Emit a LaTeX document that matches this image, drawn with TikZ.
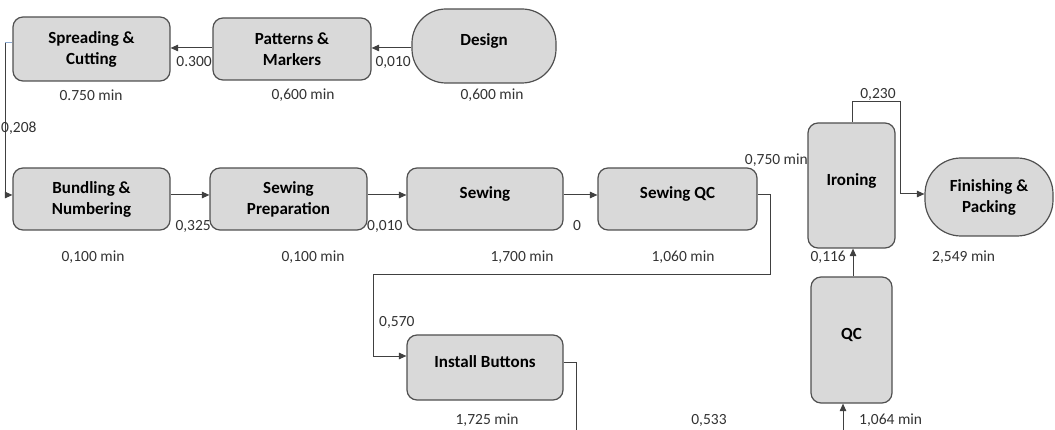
\documentclass[tikz,border=0pt]{standalone}
\usepackage{fontspec}
\setmainfont{Carlito}
\usetikzlibrary{arrows.meta}
\definecolor{boxfill}{RGB}{217,217,217}
\definecolor{boxline}{RGB}{80,80,80}
\definecolor{conn}{RGB}{64,64,64}
\definecolor{lbl}{RGB}{50,50,50}
\definecolor{tint}{RGB}{140,170,210}
\tikzset{
  box/.style={draw=boxline, fill=boxfill, line width=1.2pt, rounded corners=10pt,
    align=center, inner sep=0pt, font=\fontsize{17}{21}\selectfont\bfseries, text=black},
  pill/.style={box, rounded corners=34pt},
  oneline/.style={text depth=12pt},
  lab/.style={inner sep=0pt, font=\fontsize{15.5}{18}\selectfont, text=lbl},
  conn/.style={draw=conn, line width=1pt},
  arr/.style={conn, -{Triangle[length=7.5pt,width=6.5pt]}}
}
\begin{document}
\begin{tikzpicture}[x=1pt,y=-1pt]
\useasboundingbox (0,0) rectangle (1055,430);
% boxes
\node[box, minimum width=157, minimum height=64] (spread) at (91.5,49) {Spreading \&\\Cutting};
\node[box, minimum width=158, minimum height=62] (pattern) at (292,49) {Patterns \&\\Markers};
\node[pill, oneline, minimum width=144, minimum height=74] (design) at (484,46) {Design};
\node[box, minimum width=157, minimum height=62] (bund) at (91.5,199) {Bundling \&\\Numbering};
\node[box, minimum width=157, minimum height=62] (prep) at (288.5,199) {Sewing\\Preparation};
\node[box, oneline, minimum width=156, minimum height=62] (sew) at (485,199) {Sewing};
\node[box, oneline, minimum width=159, minimum height=62] (sqc) at (677.5,199) {Sewing QC};
\node[box, oneline, minimum width=156, minimum height=65] (inst) at (485,367.5) {Install Buttons};
\node[box, oneline, minimum width=87, minimum height=125] (iron) at (851.5,185.5) {Ironing};
\node[box, oneline, minimum width=81, minimum height=126] (qc) at (851.5,340) {QC};
\node[pill, minimum width=128, minimum height=78, rounded corners=36pt] (fin) at (989,197) {Finishing \&\\Packing};
% helper coordinates
\coordinate (c1) at (5,43);
\coordinate (c2) at (5,195);
\coordinate (c3) at (770,195);
\coordinate (c4) at (770,275);
\coordinate (c5) at (373,275);
\coordinate (c6) at (373,356);
\coordinate (c7) at (576,362);
\coordinate (c8) at (576,430);
\coordinate (c9) at (843,430);
\coordinate (c10) at (852,102);
\coordinate (c11) at (900,102);
\coordinate (c12) at (900,194);
% connectors
\draw[arr] (design.west |- 0,48) -- (pattern.east |- 0,48);
\draw[arr] (pattern.west |- 0,48) -- (spread.east |- 0,48);
\draw[draw=tint, line width=1pt] (spread.west |- c1) -- (c1);
\draw[arr] (c1) -- (c2) -- (bund.west |- c2);
\draw[arr] (bund.east |- c2) -- (prep.west |- c2);
\draw[arr] (prep.east |- c2) -- (sew.west |- c2);
\draw[arr] (sew.east |- c2) -- (sqc.west |- c2);
\draw[arr] (sqc.east |- c3) -- (c3) -- (c4) -- (c5) -- (c6) -- (inst.west |- c6);
\draw[conn] (inst.east |- c7) -- (c7) -- (c8);
\draw[arr] (c9) -- (qc.south -| c9);
\draw[arr] (qc.north -| 853,0) -- (iron.south -| 853,0);
\draw[arr] (iron.north -| c10) -- (c10) -- (c11) -- (c12) -- (fin.west |- c12);
% labels
\node[lab, anchor=east] (l1) at (212,62) {0.300};
\node[lab, anchor=east] (l2) at (411,62) {0,010};
\node[lab] (l3) at (91,95) {0.750 min};
\node[lab] (l4) at (303,95) {0,600 min};
\node[lab] (l5) at (492,95) {0,600 min};
\node[lab, anchor=west] (l6) at (1,128) {0,208};
\node[lab, anchor=east] (l7) at (211,226) {0,325};
\node[lab, anchor=west] (l8) at (367,226) {0,010};
\node[lab] (l9) at (577,226) {0};
\node[lab] (l10) at (93,257) {0,100 min};
\node[lab] (l11) at (313,257) {0,100 min};
\node[lab] (l12) at (522,257) {1,700 min};
\node[lab] (l13) at (683,257) {1,060 min};
\node[lab, anchor=east] (l14) at (808,160) {0,750 min};
\node[lab] (l15) at (878,94) {0,230};
\node[lab, anchor=east] (l16) at (846,257) {0,116};
\node[lab, anchor=west] (l17) at (932,257) {2,549 min};
\node[lab, anchor=west] (l18) at (379,322) {0,570};
\node[lab] (l19) at (487,420) {1,725 min};
\node[lab] (l20) at (709,420) {0,533};
\node[lab, anchor=west] (l21) at (859,420) {1,064 min};
\end{tikzpicture}
\end{document}
